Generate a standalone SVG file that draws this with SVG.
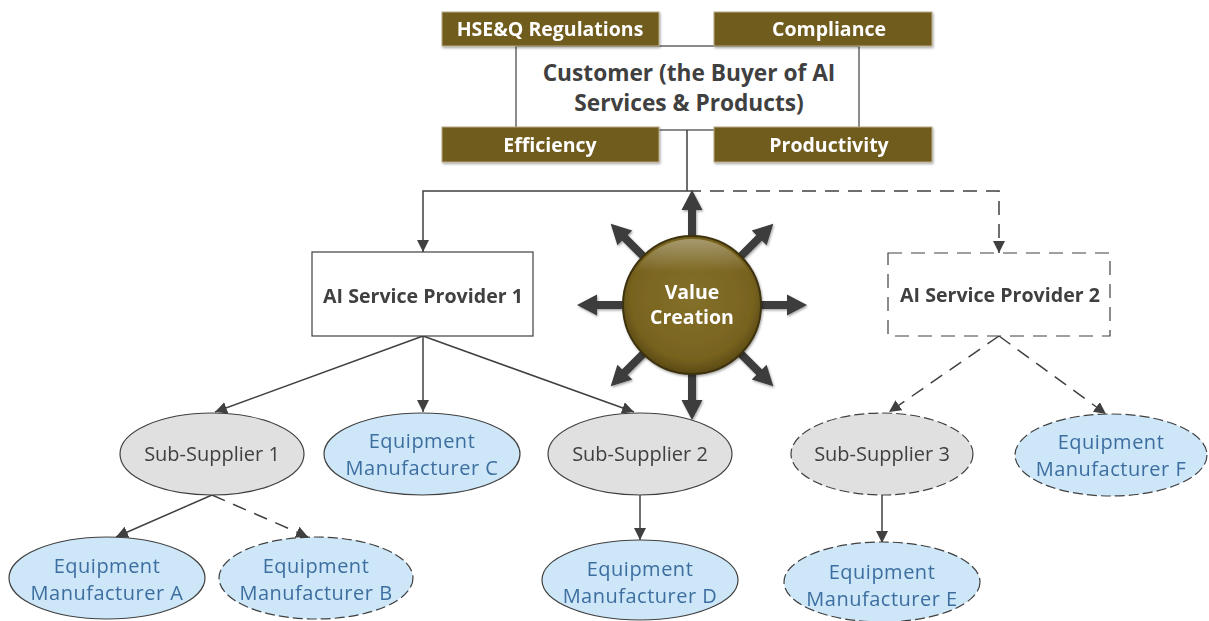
<svg xmlns="http://www.w3.org/2000/svg" width="1209" height="621" viewBox="0 0 1209 621">
<defs>
<marker id="ah" viewBox="0 0 12 12" refX="12" refY="6" markerWidth="12" markerHeight="12" markerUnits="userSpaceOnUse" orient="auto">
<path d="M0,0 L12,6 L0,12 Z" fill="#404040"/>
</marker>
<radialGradient id="vc" cx="50%" cy="45%" r="55%">
<stop offset="0" stop-color="#84702a"/>
<stop offset="0.8" stop-color="#78631f"/>
<stop offset="1" stop-color="#5a4914"/>
</radialGradient>
<linearGradient id="hl" x1="0" y1="0" x2="0" y2="1">
<stop offset="0" stop-color="#ffffff" stop-opacity="0.35"/>
<stop offset="0.25" stop-color="#ffffff" stop-opacity="0"/>
</linearGradient>
<filter id="sh" x="-20%" y="-20%" width="140%" height="140%">
<feDropShadow dx="1" dy="1.5" stdDeviation="1.2" flood-color="#000" flood-opacity="0.35"/>
</filter>
<g id="ray">
<rect x="58" y="-4" width="40" height="8" fill="#3c3c3c"/>
<path d="M95,-10.5 L115,0 L95,10.5 Z" fill="#3c3c3c"/>
</g>
</defs>
<style>
.tag{fill:#705b1f;stroke:#b9ab86;stroke-width:1}
.tagt{font-family:"Open Sans","Liberation Sans",sans-serif;font-weight:bold;font-size:19.5px;fill:#ffffff;text-anchor:middle}
.bt{font-family:"Open Sans","Liberation Sans",sans-serif;font-weight:bold;fill:#404040;text-anchor:middle}
.box{fill:#ffffff;stroke:#404040;stroke-width:1.2}
.dash{stroke-dasharray:14 9}
.gray{fill:#e0e0e0;stroke:#404040;stroke-width:1.2}
.blue{fill:#cde6f8;stroke:#404040;stroke-width:1.2}
.gt{font-family:"Open Sans","Liberation Sans",sans-serif;font-size:20px;fill:#404040;text-anchor:middle}
.et{font-family:"Open Sans","Liberation Sans",sans-serif;font-size:20px;fill:#3d6ea0;text-anchor:middle;letter-spacing:0.5px}
.c{fill:none;stroke:#404040;stroke-width:1.5}
.ed{stroke-dasharray:10 4}
</style>

<g id="connectors">
<path class="c" d="M687,130 L687,191 M687,191 L423,191 L423,252" marker-end="url(#ah)"/>
<path class="c dash" d="M687,191 L999,191 L999,253" marker-end="url(#ah)"/>
<path class="c" d="M423,336 L215,412" marker-end="url(#ah)"/>
<path class="c" d="M423,336 L423,412" marker-end="url(#ah)"/>
<path class="c" d="M423,336 L634,412" marker-end="url(#ah)"/>
<path class="c" d="M212,495 L116,537" marker-end="url(#ah)"/>
<path class="c dash" d="M212,495 L308,537" marker-end="url(#ah)"/>
<path class="c" d="M640,495 L640,540" marker-end="url(#ah)"/>
<path class="c dash" d="M999,336 L889,412" marker-end="url(#ah)"/>
<path class="c dash" d="M999,336 L1106,414" marker-end="url(#ah)"/>
<path class="c" d="M882,495 L882,543" marker-end="url(#ah)"/>
</g>

<g id="customer">
<rect x="516" y="46" width="343" height="84" class="box"/>
<text class="bt" font-size="22.7" x="689" y="81">Customer (the Buyer of AI</text>
<text class="bt" font-size="22.7" x="689" y="111">Services &amp; Products)</text>
</g>
<g id="hseq" filter="url(#sh)">
<rect x="442" y="12" width="217" height="34" class="tag"/>
<text class="tagt" x="550" y="36">HSE&amp;Q Regulations</text>
</g>
<g id="compliance" filter="url(#sh)">
<rect x="714" y="12" width="218" height="34" class="tag"/>
<text class="tagt" x="829" y="36">Compliance</text>
</g>
<g id="efficiency" filter="url(#sh)">
<rect x="442" y="127" width="217" height="35" class="tag"/>
<text class="tagt" x="550" y="152">Efficiency</text>
</g>
<g id="productivity" filter="url(#sh)">
<rect x="714" y="127" width="218" height="35" class="tag"/>
<text class="tagt" x="829" y="152">Productivity</text>
</g>

<g id="value-creation">
<g transform="translate(692,305)" filter="url(#sh)">
<use href="#ray" transform="rotate(0)"/>
<use href="#ray" transform="rotate(45)"/>
<use href="#ray" transform="rotate(90)"/>
<use href="#ray" transform="rotate(135)"/>
<use href="#ray" transform="rotate(180)"/>
<use href="#ray" transform="rotate(225)"/>
<use href="#ray" transform="rotate(270)"/>
<use href="#ray" transform="rotate(315)"/>
</g>
<circle cx="692" cy="305" r="69" fill="url(#vc)" stroke="#3e3310" stroke-width="2" filter="url(#sh)"/>
<circle cx="692" cy="305" r="66" fill="url(#hl)"/>
<text class="tagt" font-size="17" x="692" y="299">Value</text>
<text class="tagt" font-size="17" x="692" y="324">Creation</text>
</g>

<g id="sp1">
<rect x="312" y="252" width="221" height="84" class="box"/>
<text class="bt" font-size="19.6" x="423" y="303">AI Service Provider 1</text>
</g>
<g id="sp2">
<rect x="888" y="253" width="222" height="83" class="box dash"/>
<text class="bt" font-size="19.6" x="1000" y="302">AI Service Provider 2</text>
</g>

<g id="ss1">
<ellipse cx="212" cy="454" rx="92" ry="41" class="gray"/>
<text class="gt" x="212" y="461">Sub-Supplier 1</text>
</g>
<g id="emc">
<ellipse cx="422" cy="454" rx="98" ry="41" class="blue"/>
<text class="et" x="422" y="448">Equipment</text>
<text class="et" x="422" y="475">Manufacturer C</text>
</g>
<g id="ss2">
<ellipse cx="640" cy="454" rx="92" ry="41" class="gray"/>
<text class="gt" x="640" y="461">Sub-Supplier 2</text>
</g>
<g id="ss3">
<ellipse cx="882" cy="454" rx="91" ry="41" class="gray ed"/>
<text class="gt" x="882" y="461">Sub-Supplier 3</text>
</g>
<g id="emf">
<ellipse cx="1111" cy="455" rx="96" ry="41" class="blue ed"/>
<text class="et" x="1111" y="449">Equipment</text>
<text class="et" x="1111" y="476">Manufacturer F</text>
</g>
<g id="ema">
<ellipse cx="107" cy="578" rx="98" ry="41" class="blue"/>
<text class="et" x="107" y="573">Equipment</text>
<text class="et" x="107" y="600">Manufacturer A</text>
</g>
<g id="emb">
<ellipse cx="316" cy="578" rx="97" ry="41" class="blue ed"/>
<text class="et" x="316" y="573">Equipment</text>
<text class="et" x="316" y="600">Manufacturer B</text>
</g>
<g id="emd">
<ellipse cx="640" cy="580" rx="98" ry="40" class="blue"/>
<text class="et" x="640" y="576">Equipment</text>
<text class="et" x="640" y="603">Manufacturer D</text>
</g>
<g id="eme">
<ellipse cx="882" cy="582" rx="98" ry="40" class="blue ed"/>
<text class="et" x="882" y="579">Equipment</text>
<text class="et" x="882" y="606">Manufacturer E</text>
</g>
</svg>
